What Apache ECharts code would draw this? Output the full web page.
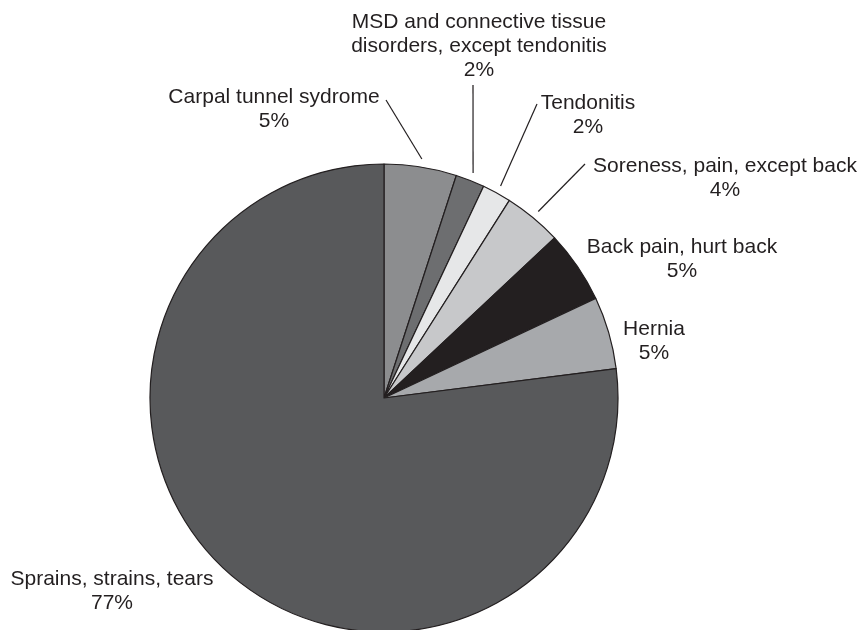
<!DOCTYPE html>
<html>
<head>
<meta charset="utf-8">
<script src="https://cdn.jsdelivr.net/npm/echarts@6/dist/echarts.min.js"></script>
<style>
  html, body { margin: 0; padding: 0; background: #fff; }
  #chart { width: 862px; height: 630px; }
</style>
</head>
<body>
<div id="chart"></div>
<script>
// Injury categories (clockwise from 12 o'clock) and their shares, in percent
const categories = [
  'Carpal tunnel sydrome',
  'MSD and connective tissue\ndisorders, except tendonitis',
  'Tendonitis',
  'Soreness, pain, except back',
  'Back pain, hurt back',
  'Hernia',
  'Sprains, strains, tears'
];
const shares = [5, 2, 2, 4, 5, 5, 77];

// Slice fills
const sliceColors = ['#8c8d8f', '#6d6e70', '#e6e7e8', '#c7c8ca', '#231f20', '#a7a9ac', '#58595b'];

// Label placement: block centre and, where a leader is drawn, the leader's end relative to that centre
const labelPlacement = [
  { x: 274, y: 109, lead: [112, -9] },
  { x: 479, y: 46, lead: [-6, 39] },
  { x: 588, y: 115, lead: [-51, -11] },
  { x: 725, y: 178, lead: [-140, -14] },
  { x: 682, y: 259, lead: null },
  { x: 654, y: 341, lead: null },
  { x: 112, y: 591, lead: null }
];

const CX = 384, CY = 398, R = 234;
const total = shares.reduce((a, b) => a + b, 0);

// Point just outside the rim at the slice's mid angle (angles clockwise from 12 o'clock)
function rimPoint(i, gap) {
  let before = 0;
  for (let k = 0; k < i; k++) before += shares[k];
  const mid = (before + shares[i] / 2) / total * Math.PI * 2;
  return [CX + (R + gap) * Math.sin(mid), CY - (R + gap) * Math.cos(mid)];
}

const chart = echarts.init(document.getElementById('chart'), null, { renderer: 'canvas' });

chart.setOption({
  backgroundColor: '#ffffff',
  animation: false,
  series: [{
    type: 'pie',
    center: [CX, CY],
    radius: R,
    startAngle: 90,
    clockwise: true,
    avoidLabelOverlap: false,
    data: categories.map((name, i) => ({
      name: name,
      value: shares[i],
      itemStyle: { color: sliceColors[i] },
      labelLine: { show: !!labelPlacement[i].lead }
    })),
    itemStyle: { borderColor: '#231f20', borderWidth: 1.2 },
    label: {
      show: true,
      position: 'outside',
      formatter: p => p.name + '\n' + p.value + '%',
      fontFamily: '"Liberation Sans", Arial, Helvetica, sans-serif',
      fontSize: 21,
      lineHeight: 24,
      color: '#231f20',
      align: 'center'
    },
    labelLine: {
      show: true,
      length: 10,
      length2: 10,
      lineStyle: { color: '#231f20', width: 1.2 }
    },
    labelLayout: function (params) {
      const i = params.dataIndex;
      const pl = labelPlacement[i];
      const out = { x: pl.x, y: pl.y, align: 'center', verticalAlign: 'middle', hideOverlap: false, moveOverlap: false };
      if (pl.lead) {
        const start = rimPoint(i, 8);
        const end = [pl.x + pl.lead[0], pl.y + pl.lead[1]];
        out.labelLinePoints = [start, end, end];
      }
      return out;
    },
    emphasis: { disabled: true }
  }]
});
</script>
</body>
</html>
